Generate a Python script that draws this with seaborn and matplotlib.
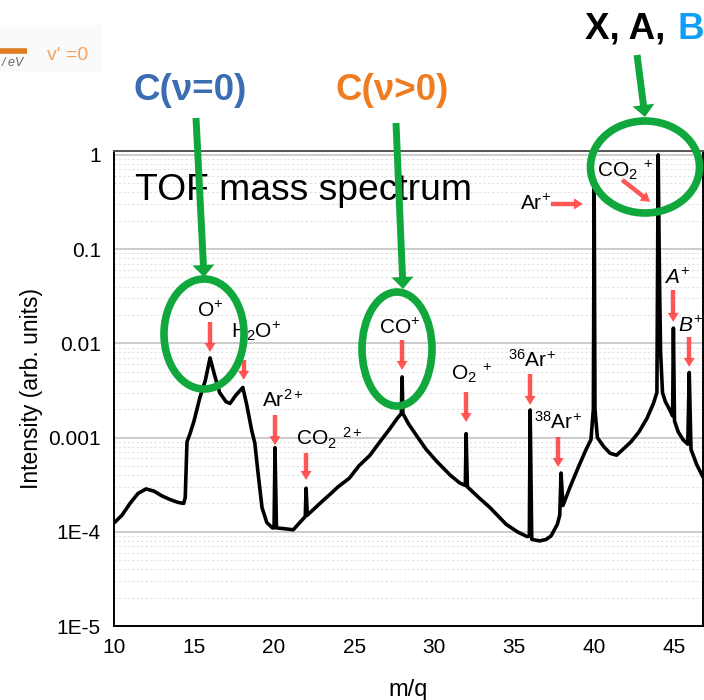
import numpy as np
import pandas as pd
import matplotlib
matplotlib.use("Agg")
import matplotlib.pyplot as plt
import seaborn as sns
from matplotlib.patches import Ellipse, Polygon, Rectangle
from matplotlib.ticker import FixedLocator, LogLocator, NullFormatter, MultipleLocator

# ---------------- data ----------------
mz = [10.0, 10.5, 11.0, 11.5, 12.0, 12.5, 13.0, 13.5, 14.0, 14.35, 14.45, 14.56,
      14.75, 15.0, 15.375, 15.7, 16.0, 16.3, 16.6, 17.0, 17.25, 17.6, 18.05,
      18.3, 18.6, 18.8, 19.0, 19.25, 19.55, 19.9, 20.0, 20.06, 20.15, 20.6,
      21.2, 21.6, 21.95, 22.0, 22.08, 22.5, 23.0, 23.5, 24.0, 24.7, 25.3, 26.0,
      26.5, 27.25, 27.7, 27.95, 28.0, 28.05, 28.4, 28.9, 29.5, 30.2, 31.0,
      31.6, 31.95, 32.0, 32.08, 32.8, 33.5, 34.5, 35.2, 35.8, 35.95, 36.0,
      36.1, 36.6, 37.0, 37.3, 37.7, 37.85, 37.93, 38.05, 38.5, 39.0, 39.5,
      39.8, 39.95, 40.0, 40.05, 40.2, 40.6, 41.0, 41.4, 41.8, 42.3, 42.8,
      43.3, 43.7, 43.92, 44.0, 44.08, 44.15, 44.27, 44.45, 44.7, 44.9, 44.95,
      45.02, 45.25, 45.55, 45.85, 45.94, 46.05, 46.4, 46.8]
intensity = [1.24e-4, 1.5e-4, 2.0e-4, 2.55e-4, 2.85e-4, 2.7e-4, 2.4e-4, 2.2e-4,
             2.05e-4, 2.0e-4, 2.3e-4, 9.0e-4, 1.1e-3, 1.5e-3, 2.7e-3, 4.0e-3,
             7.0e-3, 4.5e-3, 3.0e-3, 2.4e-3, 2.3e-3, 2.8e-3, 3.4e-3, 2.2e-3,
             1.2e-3, 8.7e-4, 4.2e-4, 1.8e-4, 1.25e-4, 1.1e-4, 1.1e-4, 7.8e-4,
             1.1e-4, 1.08e-4, 1.05e-4, 1.25e-4, 1.45e-4, 2.9e-4, 1.5e-4, 1.75e-4,
             2.1e-4, 2.5e-4, 3.0e-4, 3.7e-4, 5.0e-4, 6.5e-4, 8.5e-4, 1.25e-3,
             1.6e-3, 1.8e-3, 4.4e-3, 1.8e-3, 1.4e-3, 1.05e-3, 7.5e-4, 5.5e-4,
             4.0e-4, 3.3e-4, 3.1e-4, 1.1e-3, 3.0e-4, 2.3e-4, 1.8e-4, 1.2e-4,
             1.0e-4, 8.9e-5, 9.0e-5, 1.96e-3, 8.3e-5, 8.0e-5, 8.3e-5, 9.0e-5,
             1.2e-4, 1.5e-4, 4.2e-4, 1.9e-4, 3.0e-4, 4.8e-4, 7.5e-4, 9.5e-4,
             2.0e-3, 0.5, 2.0e-3, 1.0e-3, 8.0e-4, 6.8e-4, 6.5e-4, 7.5e-4, 9.0e-4,
             1.15e-3, 1.6e-3, 2.3e-3, 3.0e-3, 1.0, 0.05, 8.0e-3, 3.0e-3, 2.4e-3,
             2.0e-3, 1.7e-3, 1.45e-2, 1.5e-3, 1.15e-3, 9.5e-4, 8.5e-4, 4.9e-3,
             7.5e-4, 5.2e-4, 3.8e-4]

xticks = [10, 15, 20, 25, 30, 35, 40, 45]
yticks = [1, 0.1, 0.01, 0.001, 1e-4, 1e-5]
ytick_labels = ["1", "0.1", "0.01", "0.001", "1E-4", "1E-5"]

# peak labels: text, m/q, intensity (baseline)
peak_texts = [r"O$^{+}$", r"H$_2$O$^{+}$", r"Ar$^{2+}$", r"CO$_2$ $^{2+}$",
              r"CO$^{+}$", r"O$_2$ $^{+}$", r"$^{36}$Ar$^{+}$", r"$^{38}$Ar$^{+}$",
              r"Ar$^{+}$", r"CO$_2$ $^{+}$", r"$\mathit{A}^{+}$", r"$\mathit{B}^{+}$"]
peak_text_mz = [16.0, 18.9, 20.56, 23.44, 27.88, 32.31, 36.13, 37.75, 36.31,
                41.94, 45.19, 46.0]
peak_text_int = [0.0190, 0.0114, 0.00211, 8.3e-4, 0.0126, 0.00408, 0.00562,
                 0.00123, 0.261, 0.584, 0.0427, 0.0132]

# red arrows: (m0, I0) -> (m1, I1)
arrow_m0 = [16.0, 18.1, 20.06, 22.0, 28.0, 32.0, 36.0, 37.75, 37.31, 41.75, 44.94, 45.94]
arrow_i0 = [0.0169, 0.0067, 0.00174, 6.87e-4, 0.01086, 3.05e-3, 4.73e-3, 1.01e-3, 0.302, 0.543, 0.0369, 0.0117]
arrow_m1 = [16.0, 18.1, 20.06, 22.0, 28.0, 32.0, 36.0, 37.75, 39.3, 43.5, 44.94, 45.94]
arrow_i1 = [0.0081, 0.0041, 8.3e-4, 3.55e-4, 0.00522, 1.46e-3, 2.22e-3, 4.87e-4, 0.302, 0.317, 0.0169, 0.00562]

# ---------------- style ----------------
sns.set_style("white")
plt.rcParams["font.family"] = ["Liberation Sans", "DejaVu Sans"]
plt.rcParams["mathtext.fontset"] = "custom"
plt.rcParams["mathtext.rm"] = "Liberation Sans"
plt.rcParams["mathtext.it"] = "Liberation Sans:italic"
plt.rcParams["mathtext.bf"] = "Liberation Sans:bold"
plt.rcParams["mathtext.default"] = "regular"
plt.rcParams["text.color"] = "black"
plt.rcParams["axes.labelcolor"] = "black"
plt.rcParams["xtick.color"] = "black"
plt.rcParams["ytick.color"] = "black"

W, H = 704, 700
fig = plt.figure(figsize=(W / 100, H / 100), dpi=100)
ax = fig.add_axes([114 / W, 74 / H, 589 / W, 475 / H])

df = pd.DataFrame({"mz": mz, "intensity": intensity})
sns.lineplot(data=df, x="mz", y="intensity", sort=False, estimator=None,
             color="black", lw=2.6, ax=ax, zorder=3)
ax.set_yscale("log")
ax.set_xlim(10, 46.8)
ax.set_ylim(1e-5, 1.1)

ax.xaxis.set_major_locator(FixedLocator(xticks))
ax.xaxis.set_minor_locator(MultipleLocator(2.5))
ax.yaxis.set_major_locator(FixedLocator(yticks))
ax.set_yticklabels(ytick_labels)
ax.yaxis.set_minor_locator(LogLocator(base=10, subs=np.arange(2, 10)))
ax.yaxis.set_minor_formatter(NullFormatter())
ax.tick_params(which="major", direction="out", length=6, width=1.2,
               labelsize=15, color="black", labelcolor="black")
ax.tick_params(which="minor", direction="out", length=3.5, width=1.0, color="black")
ax.tick_params(axis="x", which="major", length=5)
ax.tick_params(axis="x", which="minor", length=3)

ax.grid(True, axis="y", which="major", color="#c4c4c4", lw=1.2)
ax.grid(True, axis="y", which="minor", color="#e2e2e2", lw=0.8, ls=(0, (2, 2)))
ax.grid(False, axis="x", which="both")
ax.set_axisbelow(True)
for name, sp in ax.spines.items():
    sp.set_visible(True)
    sp.set_color("black" if name != "top" else "#555555")
    sp.set_linewidth(1.4)

ax.set_xlabel("m/q", fontsize=17)
ax.set_ylabel("Intensity (arb. units)", fontsize=16.5)
ax.xaxis.set_label_coords(0.5, -0.112)
ax.yaxis.set_label_coords(-0.12, 0.5)

ax.text(11.31, 0.333, "TOF mass spectrum", fontsize=26.8, ha="left",
        va="baseline", zorder=4, color="black")

for t, m, i in zip(peak_texts, peak_text_mz, peak_text_int):
    ax.text(m, i, t, fontsize=15, ha="center", va="baseline", zorder=4,
            clip_on=False, color="black")

# ---------------- overlay in pixel coordinates ----------------
ov = fig.add_axes([0, 0, 1, 1], zorder=10)
ov.set_xlim(0, W)
ov.set_ylim(H, 0)
ov.axis("off")


def arrow_px(x0, y0, x1, y1, shaft, head_w, head_l, color, z, alpha=1.0):
    dx, dy = x1 - x0, y1 - y0
    L = np.hypot(dx, dy)
    ux, uy = dx / L, dy / L
    px, py = -uy, ux
    bx, by = x1 - ux * head_l, y1 - uy * head_l
    ov.plot([x0, bx + ux * 1], [y0, by + uy * 1], color=color, lw=shaft,
            solid_capstyle="butt", zorder=z, alpha=alpha)
    ov.add_patch(Polygon([[x1, y1], [bx + px * head_w / 2, by + py * head_w / 2],
                          [bx - px * head_w / 2, by - py * head_w / 2]],
                         closed=True, fc=color, ec="none", zorder=z, alpha=alpha))


def to_px(m, i):
    x, y = ax.transData.transform((m, i))
    return x, H - y


red = "#ff4444"
for m0, i0, m1, i1 in zip(arrow_m0, arrow_i0, arrow_m1, arrow_i1):
    x0, y0 = to_px(m0, i0)
    x1, y1 = to_px(m1, i1)
    arrow_px(x0, y0, x1, y1, 3.2, 11, 9, red, 2, alpha=0.9)

green = "#10a83c"
for (cx, cy, w, h) in [(204, 334, 80, 110), (397, 349, 70, 114), (645, 167, 109, 92)]:
    ov.add_patch(Ellipse((cx, cy), w, h, fill=False, ec=green, lw=5.5, zorder=5))

arrow_px(196, 118, 204, 277, 5.0, 22, 12, green, 6)
arrow_px(396, 123, 403, 289, 5.0, 22, 12, green, 6)
arrow_px(637, 55, 645, 117, 5.0, 22, 12, green, 6)

ov.text(190, 100, "C(ν=0)", fontsize=26.5, fontweight="bold", color="#3b6db3",
        ha="center", va="baseline", zorder=7)
ov.text(392, 100, "C(ν>0)", fontsize=26.5, fontweight="bold", color="#ee7d22",
        ha="center", va="baseline", zorder=7)
ov.text(585, 39, "X, A, ", fontsize=26.5, fontweight="bold", color="black",
        ha="left", va="baseline", zorder=7)
ov.text(677, 39, "B", fontsize=26.5, fontweight="bold", color="#0fa0f5",
        ha="left", va="baseline", zorder=7)

# partial legend fragment in the corner
ov.add_patch(Rectangle((0, 25), 103, 47, fc="#fafafa", ec="none", zorder=1))
ov.plot([0, 27], [51, 51], color="#e07a1e", lw=4, zorder=2,
        solid_capstyle="butt")
ov.text(2, 66, "/ eV", fontsize=9, style="italic", color="#666666",
        ha="left", va="baseline", zorder=2)
ov.text(47, 60, "v' =0", fontsize=14, color="#f0a460", ha="left",
        va="baseline", zorder=2)

fig.savefig("out.png", dpi=100)
